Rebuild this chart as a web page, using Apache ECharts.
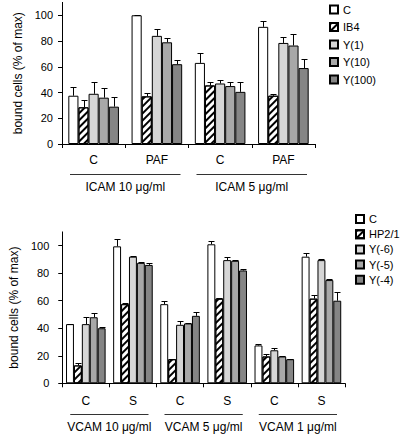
<!DOCTYPE html>
<html>
<head>
<meta charset="utf-8">
<script src="https://cdn.jsdelivr.net/npm/echarts@6/dist/echarts.min.js"></script>
<style>
html,body{margin:0;padding:0;background:#fff;}
#chart{width:402px;height:438px;}
</style>
</head>
<body>
<div id="chart"></div>
<script>
// ---------- data ----------
const yTicks = [0, 20, 40, 60, 80, 100];

const topCategories = ['C', 'PAF', 'C', 'PAF'];
const topGroups = ['ICAM 10 μg/ml', 'ICAM 5 μg/ml'];
const topNames = ['C', 'IB4', 'Y(1)', 'Y(10)', 'Y(100)'];
const topC    = [37.5, 100, 63, 91];
const topIB4  = [28.5, 37, 45.5, 37.5];
const topY1   = [39, 84, 47, 78.5];
const topY10  = [36, 79, 45, 76.5];
const topY100 = [29, 62, 40.5, 59];
const topCErr    = [7, 0, 7.5, 4.5];
const topIB4Err  = [6, 2.5, 3, 1];
const topY1Err   = [9, 5, 2.5, 5];
const topY10Err  = [7.5, 3.5, 3.5, 9];
const topY100Err = [7.5, 3, 7.5, 7];

const botCategories = ['C', 'S', 'C', 'S', 'C', 'S'];
const botGroups = ['VCAM 10 μg/ml', 'VCAM 5 μg/ml', 'VCAM 1 μg/ml'];
const botNames = ['C', 'HP2/1', 'Y(-6)', 'Y(-5)', 'Y(-4)'];
const botC   = [43, 99.5, 57.5, 101, 27.5, 92];
const botHP  = [13, 57.5, 17.5, 61.5, 19.5, 61.5];
const botY6  = [43, 92, 42.5, 89.5, 24, 89.5];
const botY5  = [48, 87.5, 43.5, 89, 19.5, 75];
const botY4  = [40, 86, 49, 82, 17.5, 60];
const botCErr  = [0, 5.5, 2, 2.5, 1, 2.5];
const botHPErr = [2, 0.5, 0.5, 0.5, 1.5, 2.5];
const botY6Err = [5, 0.5, 2.5, 2.5, 2, 0.5];
const botY5Err = [3, 0.5, 0.5, 0.5, 0, 0.5];
const botY4Err = [1, 1.5, 3, 1, 0.5, 6];

// ---------- styles ----------
const FONT = 'Liberation Sans, Arial, Helvetica, sans-serif';
const hatch = {
  symbol: 'rect', symbolSize: 1,
  dashArrayX: [1, 0], dashArrayY: [2, 3],
  rotation: -Math.PI / 4, color: '#000'
};
const styles = [
  { color: '#ffffff', borderColor: '#000', borderWidth: 1 },
  { color: '#ffffff', borderColor: '#000', borderWidth: 1, decal: hatch },
  { color: '#d6d6d6', borderColor: '#000', borderWidth: 1 },
  { color: '#a8a8a8', borderColor: '#000', borderWidth: 1 },
  { color: '#858585', borderColor: '#000', borderWidth: 1 }
];

const panels = [
  { cats: topCategories, groups: topGroups, names: topNames,
    vals: [topC, topIB4, topY1, topY10, topY100],
    errs: [topCErr, topIB4Err, topY1Err, topY10Err, topY100Err],
    gap: 0.2, grid: { left: 62, top: 2.4, width: 253, height: 141.6 },
    nameGap: 33, labelMargin: 9, catMargin: 10, groupOffset: 29, lineOffset: 29.5,
    legend: { left: 329, top: 2.5, itemGap: 3.5 } },
  { cats: botCategories, groups: botGroups, names: botNames,
    vals: [botC, botHP, botY6, botY5, botY4],
    errs: [botCErr, botHPErr, botY6Err, botY5Err, botY4Err],
    gap: 0.16, grid: { left: 49.3, top: 231.9, width: 295.7, height: 151.4 },
    nameGap: 36, labelMargin: 13, catMargin: 12, groupOffset: 30, lineOffset: 31,
    legend: { left: 355, top: 212, itemGap: 1.2 } }
];

const grid = [], xAxis = [], yAxis = [], series = [], legend = [];

panels.forEach((p, gi) => {
  grid.push(Object.assign({ containLabel: false }, p.grid));
  xAxis.push({
    type: 'category', gridIndex: gi, data: p.cats,
    axisLine: { lineStyle: { color: '#000', width: 1 } },
    axisTick: { show: true, length: 4, lineStyle: { color: '#000' } },
    axisLabel: { color: '#000', fontSize: 12, fontFamily: FONT, margin: p.catMargin, interval: 0 }
  });
  xAxis.push({
    type: 'category', gridIndex: gi, data: p.groups, position: 'bottom', offset: p.groupOffset,
    axisLine: { show: false }, axisTick: { show: false },
    axisLabel: { color: '#000', fontSize: 12, fontFamily: FONT, margin: 8, interval: 0, hideOverlap: false }
  });
  yAxis.push({
    type: 'value', gridIndex: gi, min: 0, max: 110,
    name: 'bound cells (% of max)', nameLocation: 'middle', nameGap: p.nameGap,
    nameTextStyle: { color: '#000', fontSize: 12, fontFamily: FONT },
    axisLine: { show: true, lineStyle: { color: '#000', width: 1 } },
    axisTick: { show: true, length: 4, lineStyle: { color: '#000' }, customValues: yTicks },
    axisLabel: { color: '#000', fontSize: 11, fontFamily: FONT, margin: p.labelMargin, customValues: yTicks },
    splitLine: { show: false }
  });

  p.names.forEach((n, si) => {
    series.push({
      type: 'bar', name: n, xAxisIndex: gi * 2, yAxisIndex: gi,
      data: p.vals[si], barGap: '0%', barCategoryGap: (p.gap * 100) + '%',
      itemStyle: styles[si], emphasis: { disabled: true }, animation: false
    });
  });

  const errData = [];
  p.names.forEach((n, si) => {
    p.vals[si].forEach((v, ci) => errData.push([ci, si, v, p.errs[si][ci]]));
  });
  const gap = p.gap, nS = p.names.length;
  series.push({
    type: 'custom', xAxisIndex: gi * 2, yAxisIndex: gi, z: 5, silent: true, animation: false,
    encode: { x: 0, y: 2 }, data: errData,
    renderItem: function (params, api) {
      const c = api.value(0), s = api.value(1), v = api.value(2), e = api.value(3);
      const band = api.size([1, 0])[0];
      const gw = band * (1 - gap);
      const bw = gw / nS;
      const pt = api.coord([c, v]);
      const x = Math.round(pt[0] - gw / 2 + (s + 0.5) * bw) + 0.5;
      const yTop = pt[1];
      const yCap = Math.round(api.coord([c, v + e])[1]) + 0.5;
      return { type: 'group', children: [
        { type: 'line', shape: { x1: x, y1: yTop, x2: x, y2: yCap }, style: { stroke: '#000', lineWidth: 1 } },
        { type: 'line', shape: { x1: x - 3, y1: yCap, x2: x + 3, y2: yCap }, style: { stroke: '#000', lineWidth: 1 } }
      ] };
    }
  });

  const lineOff = p.lineOffset;
  series.push({
    type: 'custom', xAxisIndex: gi * 2, yAxisIndex: gi, silent: true, animation: false, clip: false,
    encode: { x: 0, y: 1 }, data: p.groups.map((g, k) => [k, 0]),
    renderItem: function (params, api) {
      const g = api.value(0);
      const band = api.size([1, 0])[0];
      const xl = api.coord([2 * g, 0])[0] - band / 2 + 8;
      const xr = api.coord([2 * g + 1, 0])[0] + band / 2 - 8;
      const y = Math.round(api.coord([0, 0])[1] + lineOff) + 0.5;
      return { type: 'line', shape: { x1: xl, y1: y, x2: xr, y2: y }, style: { stroke: '#333', lineWidth: 1 } };
    }
  });

  legend.push({
    orient: 'vertical', left: p.legend.left, top: p.legend.top, padding: 0,
    itemWidth: 8, itemHeight: 8, itemGap: p.legend.itemGap, icon: 'rect',
    data: p.names,
    textStyle: { color: '#000', fontSize: 11, fontFamily: FONT, lineHeight: 14 },
    selectedMode: false
  });
});

const chart = echarts.init(document.getElementById('chart'), null, { renderer: 'svg' });
chart.setOption({
  animation: false,
  backgroundColor: '#fff',
  textStyle: { fontFamily: FONT },
  grid, xAxis, yAxis, series, legend
});
</script>
</body>
</html>
